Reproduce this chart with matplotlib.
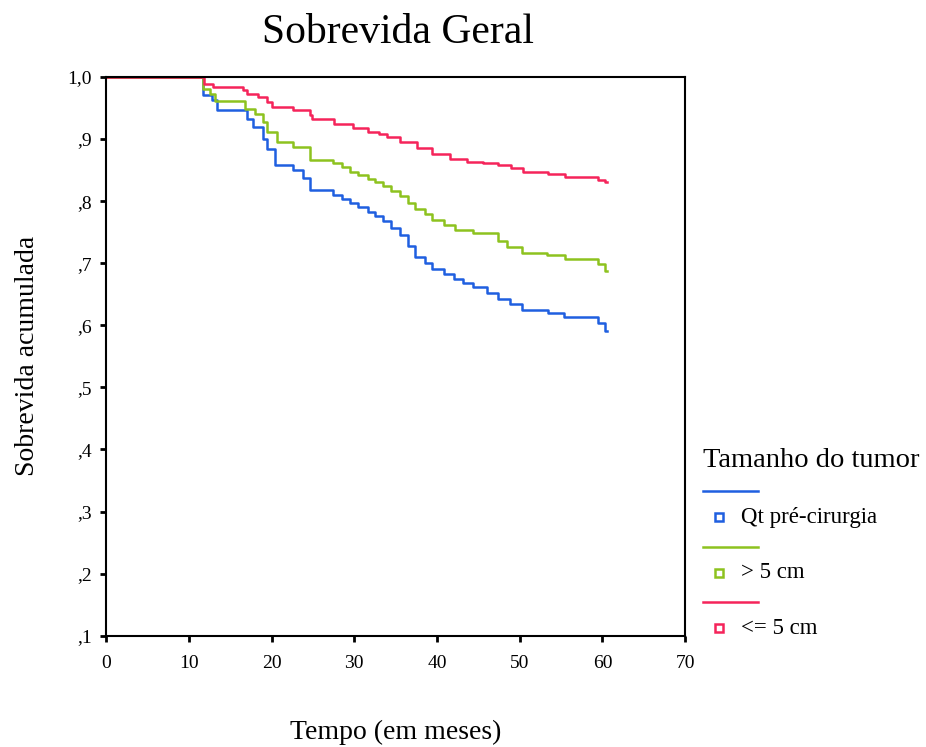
import matplotlib
matplotlib.use('Agg')
import matplotlib.pyplot as plt
from matplotlib.lines import Line2D

plt.rcParams['font.family'] = ['Liberation Serif', 'DejaVu Serif']

# Kaplan-Meier estimates (months, cumulative survival)
red_t = [0, 11.8, 12.9, 16.6, 17.0, 18.4, 19.5, 20.0, 22.6, 24.7, 24.9, 27.5, 29.9, 31.6, 33.0, 34.0,
         35.5, 37.6, 39.4, 41.6, 43.6, 45.5, 47.4, 49.0, 50.4, 53.4, 55.5, 59.4, 60.3, 60.6]
red_s = [1.0, 0.989, 0.984, 0.979, 0.973, 0.968, 0.96, 0.952, 0.947, 0.939, 0.932, 0.925, 0.918, 0.912, 0.908, 0.904,
         0.895, 0.886, 0.876, 0.868, 0.863, 0.861, 0.858, 0.853, 0.847, 0.844, 0.839, 0.834, 0.83, 0.83]

green_t = [0, 11.7, 12.6, 13.2, 16.8, 18.0, 19.0, 19.5, 20.7, 22.6, 24.7, 27.4, 28.5, 29.5, 30.5, 31.6, 32.5, 33.5,
           34.5, 35.5, 36.5, 37.4, 38.5, 39.4, 40.8, 42.2, 44.4, 47.4, 48.5, 50.3, 53.3, 55.5, 59.4, 60.3, 60.6]
green_s = [1.0, 0.981, 0.973, 0.962, 0.949, 0.941, 0.928, 0.912, 0.896, 0.887, 0.867, 0.862, 0.855, 0.847, 0.842,
           0.836, 0.83, 0.824, 0.816, 0.808, 0.797, 0.788, 0.779, 0.77, 0.762, 0.754, 0.748, 0.735, 0.726, 0.716,
           0.714, 0.706, 0.698, 0.687, 0.687]

blue_t = [0, 11.7, 12.8, 13.4, 17.0, 17.8, 19.0, 19.5, 20.4, 22.6, 23.8, 24.7, 27.4, 28.5, 29.5, 30.5, 31.6, 32.5,
          33.5, 34.5, 35.5, 36.5, 37.4, 38.5, 39.4, 40.8, 42.0, 43.2, 44.4, 46.0, 47.4, 48.8, 50.3, 53.4, 55.3,
          59.4, 60.3, 60.6]
blue_s = [1.0, 0.971, 0.963, 0.947, 0.932, 0.92, 0.9, 0.884, 0.858, 0.85, 0.838, 0.818, 0.81, 0.804, 0.797, 0.79,
          0.783, 0.776, 0.768, 0.757, 0.745, 0.727, 0.71, 0.7, 0.69, 0.682, 0.674, 0.668, 0.662, 0.652, 0.643,
          0.634, 0.625, 0.619, 0.614, 0.603, 0.59, 0.59]

groups = ['Qt pré-cirurgia', '> 5 cm', '<= 5 cm']
colors = ['#1f5fe0', '#8dc21f', '#f5245a']

y_ticks = [0.1, 0.2, 0.3, 0.4, 0.5, 0.6, 0.7, 0.8, 0.9, 1.0]
y_labels = [',1', ',2', ',3', ',4', ',5', ',6', ',7', ',8', ',9', '1,0']
x_ticks = [0, 10, 20, 30, 40, 50, 60, 70]

fig = plt.figure(figsize=(9.26, 7.47), dpi=100)
ax = fig.add_axes([0.1145, 0.149, 0.6255, 0.748])

for t, s, c in zip([blue_t, green_t, red_t], [blue_s, green_s, red_s], colors):
    ax.step(t, s, where='post', color=c, lw=1.8)

ax.set_xlim(0, 70)
ax.set_ylim(0.1, 1.0)
ax.set_xticks(x_ticks)
ax.set_yticks(y_ticks)
ax.set_yticklabels(y_labels)
ax.tick_params(direction='out', length=4, width=2, labelsize=14)
ax.tick_params(axis='x', pad=10)
ax.tick_params(axis='y', pad=6)
for sp in ax.spines.values():
    sp.set_linewidth(1.5)

ax.set_xlabel('Tempo (em meses)', fontsize=20, va='center')
ax.xaxis.set_label_coords(0.5, -0.1735)
ax.set_ylabel('Sobrevida acumulada', fontsize=20, va='center')
ax.yaxis.set_label_coords(-0.135, 0.5)
fig.text(0.43, 0.956, 'Sobrevida Geral', fontsize=30, ha='center', va='center')

# legend drawn by hand: a line on one row, marker and label below it
fig.text(0.759, 0.384, 'Tamanho do tumor', fontsize=20.5, va='center')
for i, (g, c) in enumerate(zip(groups, colors)):
    ly = 1 - (491 + i * 55.5) / 747
    my = 1 - (517 + i * 55.5) / 747
    fig.add_artist(Line2D([0.759, 0.819], [ly, ly], color=c, lw=1.8, transform=fig.transFigure))
    fig.add_artist(Line2D([0.7765], [my], marker='s', ms=6, mfc='none', mec=c, mew=1.8,
                          transform=fig.transFigure))
    fig.text(0.80, my, g, fontsize=16.5, va='center')

fig.savefig('out.png', dpi=100)
